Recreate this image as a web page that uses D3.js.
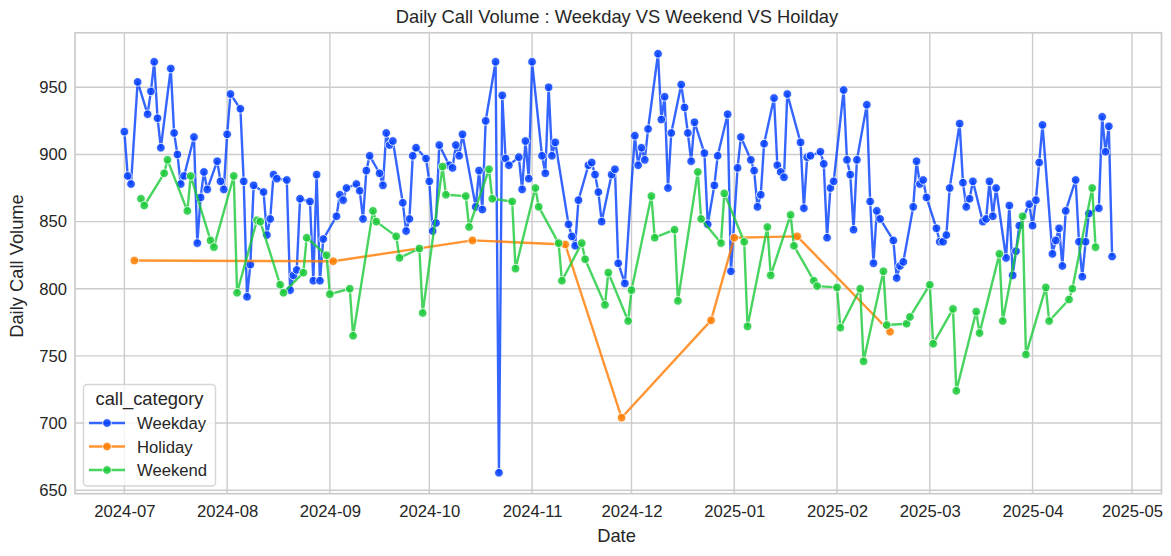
<!DOCTYPE html>
<html>
<head>
<meta charset="utf-8">
<script src="https://cdn.jsdelivr.net/npm/d3@7"></script>
<style>
  html, body { margin: 0; padding: 0; background: #fff; }
  svg { display: block; }
  text { font-family: "Liberation Sans", Arial, sans-serif; fill: #262626; }
</style>
</head>
<body>
<div id="chart"></div>
<script>
// days are counted from the first date in the data
const startDate = "2024-07-01";

const weekdayDays = [0,1,2,4,7,8,9,10,11,14,15,16,17,18,21,22,23,24,25,28,29,30,31,32,35,36,37,38,39,42,43,44,45,46,49,50,51,52,53,56,57,58,59,60,
  64,65,66,67,70,71,72,73,74,77,78,79,80,81,84,85,86,87,88,91,92,93,94,95,98,99,100,101,102,106,107,108,109,112,113,114,115,116,119,120,121,122,123,126,127,128,129,130,
  134,135,136,137,140,141,142,143,144,147,148,149,151,154,155,156,157,158,161,162,163,164,165,168,169,170,171,172,175,176,178,179,182,183,185,186,
  189,190,191,192,193,196,197,198,199,200,204,205,206,207,210,211,212,213,214,217,218,219,220,221,224,225,226,227,228,232,233,234,235,
  238,239,240,241,242,245,246,247,248,249,252,253,254,255,256,259,260,261,262,263,266,267,268,269,270,273,274,275,276,277,280,281,282,283,284,287,288,289,290,291,294,295,296,297,298];
const weekdayCalls = [917,884,878,954,930,947,969,927,905,964,916,900,878,884,913,834,868,887,874,895,880,874,915,945,934,880,794,818,877,872,840,852,885,882,881,799,810,814,867,865,806,885,806,837,
  854,870,866,875,878,873,852,888,899,886,877,916,907,910,864,843,852,899,905,897,880,843,849,907,892,890,907,899,915,861,888,859,925,969,663,944,897,892,898,874,910,882,969,899,886,950,899,909,
  848,839,832,866,892,894,885,872,850,885,889,819,804,914,892,905,896,919,975,926,943,875,916,952,935,916,895,924,901,848,877,899,930,813,890,913,
  896,888,861,870,908,942,892,887,883,945,909,860,898,899,902,893,838,875,880,948,896,885,844,896,937,865,819,858,852,836,808,817,820,
  861,895,878,881,868,845,835,835,840,875,923,879,861,867,880,850,852,880,854,875,823,862,810,828,847,863,847,866,894,922,826,836,845,817,858,881,835,809,835,856,860,928,902,921,824];

const holidayDays = [3,63,105,133,150,177,184,203,231];
const holidayCalls = [821,820.5,836,833,704,776.5,838,839,768];

const weekendDays = [5,6,12,13,19,20,26,27,33,34,40,41,47,48,54,55,61,62,68,69,75,76,82,83,89,90,96,97,103,104,110,111,117,118,124,125,131,132,138,139,145,146,152,153,159,160,166,167,173,174,180,181,187,188,194,195,201,202,208,209,215,216,222,223,229,230,236,237,243,244,250,251,257,258,264,265,271,272,278,279,285,286,292,293];
const weekendCalls = [867,862,886,896,858,884,836,831,884,797,851,850,803,797,812,838,825,796,800,765,858,850,839,823,830,782,891,870,869,846,889,867,865,815,875,861,834,806,834,822,788,812,776,799,869,838,844,791,887,852,834,871,835,772,846,810,855,832,806,802,801,771,800,746,813,773,774,779,803,759,785,724,783,767,826,776,854,751,801,776,792,800,875,831];

const categoryNames = ["Weekday", "Holiday", "Weekend"];
const categoryDays = [weekdayDays, holidayDays, weekendDays];
const categoryCalls = [weekdayCalls, holidayCalls, weekendCalls];
const categoryColours = ["#023eff", "#ff7c00", "#1ac938"];

const xTickLabels = ["2024-07","2024-08","2024-09","2024-10","2024-11","2024-12","2025-01","2025-02","2025-03","2025-04","2025-05"];
const yTickLabels = [650,700,750,800,850,900,950];

const width = 1171, height = 556;
const margin = {top: 32.8, right: 9.5, bottom: 62.3, left: 75};
const fontSize = 16.67;
const labelSize = 18.33;
const markerRadius = 4.3;
const lineWidth = 2.4;

const dayToDate = d => d3.utcDay.offset(new Date(startDate + "T00:00:00Z"), d);

const series = categoryNames.map((name, i) => ({
  name: name,
  colour: categoryColours[i],
  points: categoryDays[i].map((d, j) => ({date: dayToDate(d), calls: categoryCalls[i][j]}))
}));

const allPoints = series.flatMap(s => s.points);

// 5% padding either side of the data
const xExtent = d3.extent(allPoints, d => +d.date);
const xPad = (xExtent[1] - xExtent[0]) * 0.05;
const yExtent = d3.extent(allPoints, d => d.calls);
const yPad = (yExtent[1] - yExtent[0]) * 0.05;

const xScale = d3.scaleUtc()
  .domain([new Date(xExtent[0] - xPad), new Date(xExtent[1] + xPad)])
  .range([margin.left, width - margin.right]);
const yScale = d3.scaleLinear()
  .domain([yExtent[0] - yPad, yExtent[1] + yPad])
  .range([height - margin.bottom, margin.top]);

const svg = d3.select("#chart").append("svg")
  .attr("width", width)
  .attr("height", height);

const xTickDates = xTickLabels.map(t => new Date(t + "-01T00:00:00Z"));

// grid
svg.append("g").selectAll("line").data(xTickDates).join("line")
  .attr("x1", d => xScale(d)).attr("x2", d => xScale(d))
  .attr("y1", margin.top).attr("y2", height - margin.bottom)
  .attr("stroke", "#cccccc").attr("stroke-width", 1.4);
svg.append("g").selectAll("line").data(yTickLabels).join("line")
  .attr("x1", margin.left).attr("x2", width - margin.right)
  .attr("y1", d => yScale(d)).attr("y2", d => yScale(d))
  .attr("stroke", "#cccccc").attr("stroke-width", 1.4);

// axes, no tick marks in this style
const xAxis = d3.axisBottom(xScale).tickValues(xTickDates).tickSize(0).tickPadding(11)
  .tickFormat(d3.utcFormat("%Y-%m"));
const yAxis = d3.axisLeft(yScale).tickValues(yTickLabels).tickSize(0).tickPadding(8);

svg.append("g").attr("transform", `translate(0,${height - margin.bottom})`).call(xAxis)
  .call(g => g.select(".domain").remove())
  .selectAll("text").style("font-size", fontSize + "px").attr("fill", "#262626");
svg.append("g").attr("transform", `translate(${margin.left},0)`).call(yAxis)
  .call(g => g.select(".domain").remove())
  .selectAll("text").style("font-size", fontSize + "px").attr("fill", "#262626");

const line = d3.line().x(d => xScale(d.date)).y(d => yScale(d.calls));

series.forEach(s => {
  const g = svg.append("g");
  g.append("path")
    .attr("d", line(s.points))
    .attr("fill", "none")
    .attr("stroke", s.colour)
    .attr("stroke-opacity", 0.8)
    .attr("stroke-width", lineWidth)
    .attr("stroke-linejoin", "round");
  g.selectAll("circle").data(s.points).join("circle")
    .attr("cx", d => xScale(d.date))
    .attr("cy", d => yScale(d.calls))
    .attr("r", markerRadius)
    .attr("fill", s.colour)
    .attr("fill-opacity", 0.85)
    .attr("stroke", "#fff")
    .attr("stroke-opacity", 0.8)
    .attr("stroke-width", 1);
});

// frame
svg.append("rect")
  .attr("x", margin.left).attr("y", margin.top)
  .attr("width", width - margin.left - margin.right)
  .attr("height", height - margin.top - margin.bottom)
  .attr("fill", "none").attr("stroke", "#cccccc").attr("stroke-width", 1.7);

// title and axis labels
svg.append("text").attr("x", 617).attr("y", 23)
  .attr("text-anchor", "middle").style("font-size", labelSize + "px")
  .text("Daily Call Volume : Weekday VS Weekend VS Hoilday");
svg.append("text").attr("x", 616.5).attr("y", 542)
  .attr("text-anchor", "middle").style("font-size", labelSize + "px")
  .text("Date");
svg.append("text").attr("transform", "translate(23,266) rotate(-90)")
  .attr("text-anchor", "middle").style("font-size", labelSize + "px")
  .text("Daily Call Volume");

// legend
const legend = svg.append("g");
legend.append("rect")
  .attr("x", 83.5).attr("y", 384.5).attr("width", 132).attr("height", 101.5)
  .attr("rx", 3.5)
  .attr("fill", "#fff").attr("fill-opacity", 0.8)
  .attr("stroke", "#cccccc").attr("stroke-opacity", 0.8).attr("stroke-width", 1.4);
legend.append("text").attr("x", 149.5).attr("y", 405)
  .attr("text-anchor", "middle").style("font-size", labelSize + "px")
  .text("call_category");
const legendRow = d3.scalePoint().domain(categoryNames).range([423, 470]);
categoryNames.forEach((name, i) => {
  const ly = legendRow(name);
  legend.append("line").attr("x1", 89).attr("x2", 125).attr("y1", ly).attr("y2", ly)
    .attr("stroke", categoryColours[i]).attr("stroke-opacity", 0.8).attr("stroke-width", lineWidth);
  legend.append("circle").attr("cx", 107).attr("cy", ly).attr("r", markerRadius)
    .attr("fill", categoryColours[i]).attr("fill-opacity", 0.85)
    .attr("stroke", "#fff").attr("stroke-opacity", 0.8).attr("stroke-width", 1);
  legend.append("text").attr("x", 137).attr("y", ly + 6)
    .style("font-size", fontSize + "px").text(name);
});
</script>
</body>
</html>
